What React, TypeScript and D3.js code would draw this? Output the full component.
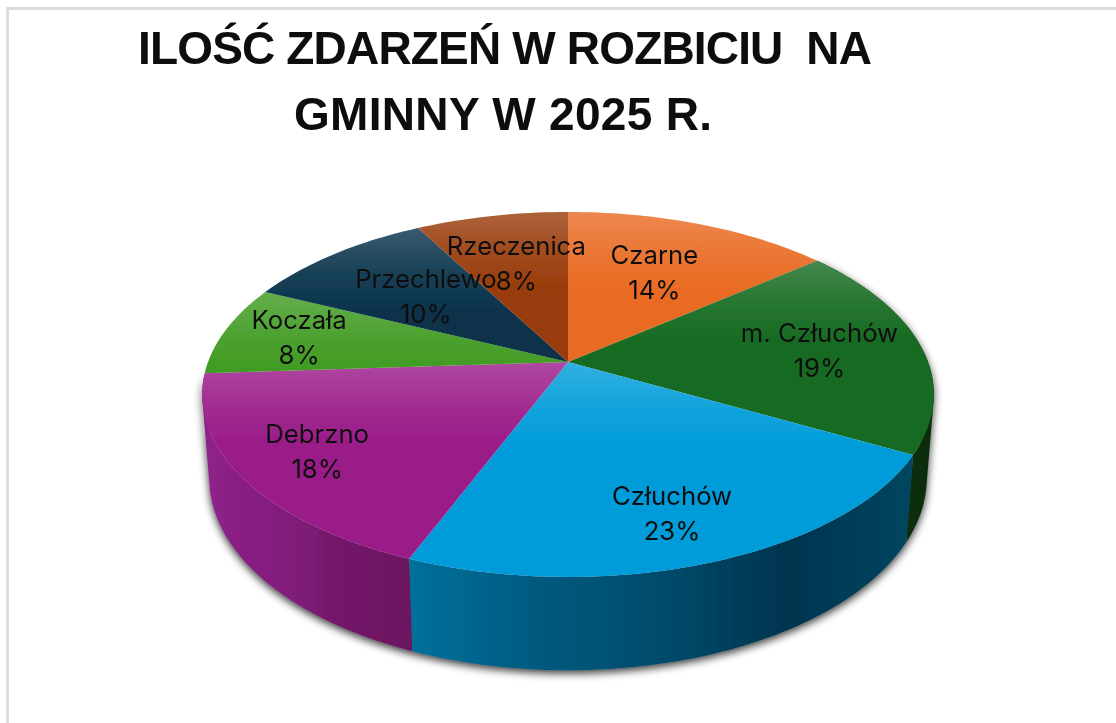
import React from "react";
import * as d3 from "d3";

const categories = ["Czarne", "m. Człuchów", "Człuchów", "Debrzno", "Koczała", "Przechlewo", "Rzeczenica"];
const percents = [14, 19, 23, 18, 8, 10, 8];
const topColors = ["#e96a22", "#156a20", "#009cd9", "#9a1b88", "#3e9a20", "#07324a", "#983a08"];
const titleLines = ["ILOŚĆ ZDARZEŃ W ROZBICIU  NA", "GMINNY W 2025 R."];
const titleWidths = [734, 418];
const labelRadius = [0.62, 0.71, 0.79, 0.79, 0.78, 0.58, 0.64];
const labelNudge = [0, 0, -7, 0, 0, 0, 0];
const wallStops: Record<number, string[]> = {
  1: ["#0b3310", "#082c0a"],
  2: ["#00709c", "#005a80", "#004c6c", "#00344f", "#00465f"],
  3: ["#8f2189", "#851d80", "#741869", "#6b1560"],
};

const CX = 568, APEX = 362, PERSP = -0.178;
const TOP = { y0: APEX, k: 360, b: 176.7 };
const BOTTOM = { y0: 444, k: 353, b: 186 };

function project(a: number, r: number, f: { y0: number; k: number; b: number }): [number, number] {
  const X = Math.sin(a) * r, Y = -Math.cos(a) * r;
  const d = 1 + PERSP * Y;
  return [CX + (f.k * X) / d, f.y0 + (f.b * Y) / d];
}

export default function App() {
  const arcs = d3.pie<number>().sort(null)(percents);
  const line = d3.line();
  const slices = arcs.map((s, i) => {
    const n = Math.max(4, Math.ceil((s.endAngle - s.startAngle) * 40));
    const step = d3.scaleLinear().domain([0, n]).range([s.startAngle, s.endAngle]);
    const rim = d3.range(n + 1).map((t) => project(step(t), 1, TOP));
    const low = d3.range(n + 1).map((t) => project(step(t), 1, BOTTOM));
    const top = line([project(0, 0, TOP), ...rim])! + "Z";
    const wall = d3.range(n).map((t) => {
      const quad: [number, number][] = [rim[t], rim[t + 1], low[t + 1], low[t]];
      if (d3.polygonArea(quad) < 0) quad.reverse();
      return line(quad)! + "Z";
    }).join("");
    const ys = rim.map((p) => p[1]).concat(APEX);
    const xs = [...rim, ...low].map((p) => p[0]);
    const mid = (s.startAngle + s.endAngle) / 2;
    const [lx, ly] = project(mid, labelRadius[i], TOP);
    return { i, top, wall, minY: d3.min(ys)!, x0: d3.min(xs)!, x1: d3.max(xs)!, lx: lx + labelNudge[i], ly };
  });
  const font = "'Liberation Sans', Arial, sans-serif";
  return (
    <svg width={1116} height={723} style={{ position: "absolute", left: 0, top: 0, background: "#fff" }}>
      <defs>
        <filter id="soft" x="-5%" y="-5%" width="110%" height="110%">
          <feGaussianBlur stdDeviation="0.55" />
        </filter>
        <filter id="shadow" x="-5%" y="-5%" width="110%" height="110%">
          <feGaussianBlur in="SourceAlpha" stdDeviation="4" />
          <feOffset dx="0" dy="3" />
          <feComponentTransfer><feFuncA type="linear" slope="0.8" /></feComponentTransfer>
          <feMerge><feMergeNode /><feMergeNode in="SourceGraphic" /></feMerge>
        </filter>
        {slices.map((s) => (
          <linearGradient key={s.i} id={`sheen${s.i}`} gradientUnits="userSpaceOnUse" x1={0} x2={0} y1={s.minY} y2={s.minY + 85}>
            <stop offset="0" stopColor="#fff" stopOpacity={0.2} />
            <stop offset="0.55" stopColor="#fff" stopOpacity={0.07} />
            <stop offset="1" stopColor="#fff" stopOpacity={0} />
          </linearGradient>
        ))}
        {Object.keys(wallStops).map((k) => {
          const i = +k, stops = wallStops[i], s = slices[i];
          return (
            <linearGradient key={k} id={`wall${k}`} gradientUnits="userSpaceOnUse" x1={s.x0} x2={s.x1} y1={0} y2={0}>
              {stops.map((c, j) => <stop key={j} offset={j / (stops.length - 1)} stopColor={c} />)}
            </linearGradient>
          );
        })}
      </defs>
      <path d="M7.5 723V8.5H1116" fill="none" stroke="#dcdcdc" strokeWidth={3} />
      <g filter="url(#soft)">
        <g fontFamily={font} fontWeight={700} fontSize={46} textAnchor="middle" fill="#0a0a0a">
          {titleLines.map((t, i) => (
            <text key={t} x={i === 0 ? 505 : 503} y={64 + i * 66} textLength={titleWidths[i]} lengthAdjust="spacing" style={{ whiteSpace: "pre" }}>{t}</text>
          ))}
        </g>
        <g filter="url(#shadow)">
          {[1, 3, 2].map((i) => <path key={i} d={slices[i].wall} fill={`url(#wall${i})`} />)}
        </g>
        {slices.map((s) => (
          <g key={s.i}>
            <path d={s.top} fill={topColors[s.i]} />
            <path d={s.top} fill={`url(#sheen${s.i})`} />
          </g>
        ))}
        <g fontFamily="Inter, 'Liberation Sans', sans-serif" fontSize={25.7} textAnchor="middle" fill="#111">
          {slices.map((s) => (
            <text key={s.i} x={s.lx} y={s.ly}>
              <tspan x={s.lx} dy={-8}>{categories[s.i]}</tspan>
              <tspan x={s.lx} dy={35}>{percents[s.i]}%</tspan>
            </text>
          ))}
        </g>
      </g>
    </svg>
  );
}
